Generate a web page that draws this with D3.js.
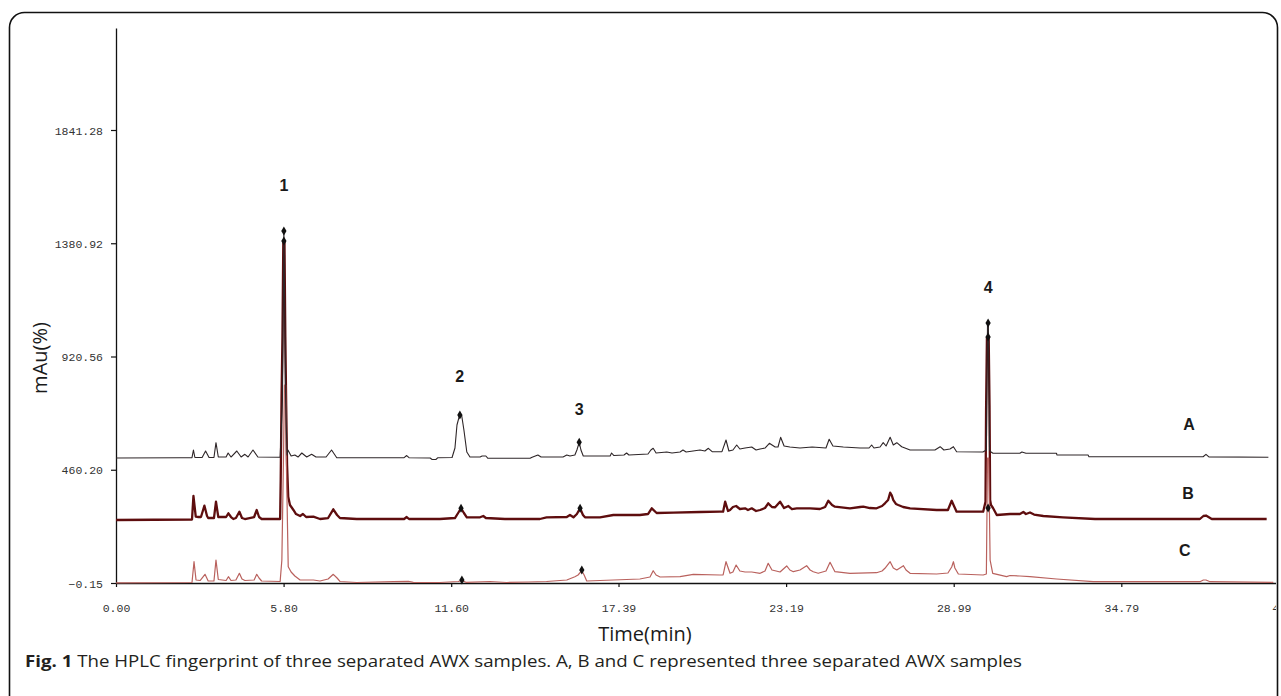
<!DOCTYPE html>
<html>
<head>
<meta charset="utf-8">
<script src="https://cdn.jsdelivr.net/npm/d3@7"></script>
<style>
  html, body { margin: 0; padding: 0; background: #fff; }
  .tick text { font-family: "Liberation Mono", "DejaVu Sans Mono", monospace; font-size: 11.5px; fill: #333; }
</style>
</head>
<body>
<div id="chart"></div>
<script>
// Axis ticks (as printed by the HPLC software)
const timeTicks = [0, 5.80, 11.60, 17.39, 23.19, 28.99, 34.79, 40.59];
const intensityTicks = [-0.15, 460.20, 920.56, 1380.92, 1841.28];
const intensityTop = 2255.9;

// Chromatograms [time (min), mAu]
const traceA = [
  [0, 508.0], [2.21, 509.2], [2.63, 509.2], [2.68, 540.5], [2.73, 510], [2.98, 510], [3.10, 536.4], [3.22, 510],
  [3.39, 510], [3.46, 570.2], [3.54, 512], [3.81, 512], [3.88, 528.3], [3.98, 512], [4.18, 536.4], [4.33, 512],
  [4.46, 523.0], [4.57, 512], [4.74, 540.5], [4.91, 512], [5.68, 510.8], [5.76, 743.7], [5.81, 1430.7],
  [5.87, 743.7], [5.92, 520.2], [5.95, 540.5], [6.06, 516.1], [6.19, 520.2], [6.30, 512], [6.43, 528.3],
  [6.60, 512], [6.77, 523.0], [6.92, 512], [7.27, 512], [7.46, 540.5], [7.64, 509.2], [9.97, 509.2],
  [10.06, 518], [10.14, 509.2], [10.87, 508.0], [10.94, 501.9], [11.07, 501.9], [11.14, 509.2], [11.63, 510],
  [11.73, 548.6], [11.80, 642.1], [11.89, 682.7], [11.96, 682.7], [12.04, 621.8], [12.14, 532.4], [12.25, 512],
  [12.60, 512], [12.67, 516.1], [12.80, 516.1], [12.87, 506.7], [14.33, 506.7], [14.40, 510.8], [14.60, 520.2],
  [14.71, 512], [15.47, 512], [15.60, 520.2], [15.71, 516.1], [15.88, 520.2], [15.95, 540.5], [16.03, 571.8],
  [16.09, 540.5], [16.17, 516.1], [16.75, 516.1], [17.10, 516.1], [17.15, 528.3], [17.23, 518], [17.58, 520.2],
  [17.67, 528.3], [17.75, 520.2], [18.41, 524.2], [18.51, 540.5], [18.59, 547.4], [18.69, 528.3], [19.06, 532.4],
  [19.24, 528.3], [19.52, 532.4], [19.62, 540.5], [19.73, 532.4], [20.21, 540.5], [20.38, 536.4], [20.50, 547.4],
  [20.63, 533.6], [20.97, 533.6], [21.11, 581.1], [21.21, 536.4], [21.35, 540.5], [21.48, 560.8], [21.59, 544.6],
  [21.77, 548.6], [22.00, 552.7], [22.15, 540.5], [22.29, 544.6], [22.46, 548.6], [22.61, 567.7], [22.81, 552.7],
  [22.91, 552.7], [23.00, 592.1], [23.12, 556.7], [23.32, 552.7], [23.67, 548.6], [24.09, 552.7], [24.57, 548.6],
  [24.68, 584.0], [24.81, 556.7], [25.17, 552.7], [25.75, 548.6], [26.06, 548.6], [26.15, 560.8], [26.23, 548.6],
  [26.44, 552.7], [26.55, 570.2], [26.65, 556.7], [26.79, 592.1], [26.90, 560.8], [27.02, 570.2], [27.19, 553.9],
  [27.48, 540.5], [28.34, 540.5], [28.52, 553.9], [28.65, 540.5], [28.86, 544.6], [28.98, 553.9], [29.09, 533.6],
  [30.00, 532.4], [30.12, 540.5], [30.16, 1056.7], [30.19, 1056.7], [30.23, 540.5], [30.28, 532.4], [30.35, 527.1],
  [31.28, 527.1], [31.35, 532.4], [31.49, 527.1], [32.55, 527.1], [32.56, 520.2], [33.64, 520.2], [33.67, 513.2],
  [37.62, 513.2], [37.72, 523.0], [37.82, 512.4], [39.88, 510.8]
];

const traceB = [
  [0, 255.9], [2.63, 258], [2.68, 353.5], [2.76, 269.4], [2.85, 268.1], [2.94, 268.1], [3.06, 314.1], [3.15, 272.2],
  [3.19, 264], [3.39, 264], [3.46, 330.3], [3.54, 268.1], [3.81, 268.1], [3.89, 283.2], [3.98, 268.1], [4.06, 260],
  [4.15, 264], [4.27, 289.7], [4.36, 264], [4.46, 260], [4.78, 268.1], [4.87, 296.6], [4.95, 268.1], [5.04, 260],
  [5.68, 260], [5.70, 420], [5.73, 760], [5.76, 1000], [5.79, 1390.0], [5.83, 1390.0], [5.86, 1000],
  [5.89, 720], [5.92, 480], [5.96, 350.6], [6.02, 316.9], [6.14, 296.6], [6.23, 280.3], [6.37, 272.2],
  [6.47, 280.3], [6.58, 268.1], [6.83, 269.4], [7.06, 260], [7.34, 264], [7.52, 299.4], [7.65, 276.3], [7.75, 264],
  [8.33, 260], [9.97, 260], [10.06, 268.1], [10.14, 260], [11.21, 260], [11.73, 264], [11.84, 284.4], [11.94, 303.5],
  [12.04, 284.4], [12.14, 266.9], [12.60, 266.9], [12.71, 272.2], [12.80, 264], [13.46, 260], [14.67, 260],
  [14.90, 266.9], [15.60, 268.1], [15.71, 276.3], [15.83, 266.9], [15.95, 280.3], [16.06, 303.5], [16.16, 276.3],
  [16.23, 266.9], [16.75, 266.9], [17.21, 276.3], [18.13, 276.3], [18.41, 280.3], [18.54, 303.5], [18.71, 284.4],
  [19.29, 285.6], [20.21, 288.5], [20.90, 289.7], [21.01, 289.7], [21.08, 330.3], [21.18, 292.5], [21.25, 296.6],
  [21.35, 308.8], [21.46, 312.8], [21.59, 300.6], [21.77, 303.5], [21.87, 296.6], [22.00, 303.5], [22.15, 292.5],
  [22.29, 296.6], [22.46, 304.7], [22.57, 323.8], [22.70, 308.8], [22.81, 307.6], [22.98, 330.3], [23.12, 304.7],
  [23.27, 312.8], [23.39, 300.6], [23.56, 303.5], [24.02, 303.5], [24.36, 300.6], [24.54, 308.8], [24.65, 334.4],
  [24.78, 316.9], [24.88, 310.0], [25.40, 303.5], [25.75, 308.8], [25.86, 310.0], [26.09, 304.7], [26.32, 303.5],
  [26.51, 312.8], [26.61, 323.8], [26.72, 337.2], [26.79, 366.9], [26.84, 357.6], [26.90, 337.2], [26.99, 321.0],
  [27.07, 316.9], [27.24, 308.8], [27.48, 303.5], [28.40, 296.6], [28.79, 296.6], [28.86, 316.9], [28.92, 334.4],
  [29.00, 312.8], [29.09, 289.7], [30.01, 289.7], [30.09, 330], [30.11, 700], [30.14, 999.8], [30.20, 999.8],
  [30.23, 720], [30.25, 337.2], [30.28, 316.9], [30.35, 304.7], [30.48, 276.3], [30.94, 280.3], [31.28, 280.3],
  [31.40, 288.5], [31.49, 280.3], [31.63, 286.4], [31.77, 278.2], [32.09, 272.2], [32.77, 266.9], [33.88, 260],
  [37.51, 260], [37.63, 272.2], [37.72, 274.2], [37.92, 260], [39.82, 260]
];

const traceC = [
  [0, 0.5], [2.63, 1.9], [2.70, 86.4], [2.77, 12.0], [2.91, 10], [3.08, 35.2], [3.19, 8.0], [3.39, 8.0],
  [3.46, 93.3], [3.54, 14.1], [3.81, 10], [3.89, 25.5], [3.98, 10], [4.15, 12], [4.27, 39.3], [4.36, 16.1],
  [4.46, 10], [4.78, 12.0], [4.87, 35.2], [4.95, 20.2], [5.04, 8.0], [5.68, 6.0], [5.74, 93.3], [5.80, 540.5],
  [5.83, 804.7], [5.87, 804.7], [5.90, 459.2], [5.96, 66.1], [6.06, 44.6], [6.19, 28.3], [6.37, 12.0], [6.83, 12],
  [7.06, 8], [7.34, 16.1], [7.52, 35.2], [7.65, 20.2], [7.75, 6.0], [8.33, 1.9], [9.60, 5.1], [10.12, 6.8],
  [10.29, 2.7], [11.21, 1.9], [11.84, 6.0], [11.97, 10], [12.11, 2.7], [12.94, 6], [13.52, 1.9], [14.27, 3.9],
  [14.90, 6.0], [15.60, 12.0], [15.88, 25.5], [15.99, 32.4], [16.12, 49.8], [16.20, 32.4], [16.29, 8.0],
  [16.75, 10], [17.21, 12.0], [18.13, 16.1], [18.48, 24.2], [18.59, 49.8], [18.69, 32.4], [18.83, 24.2],
  [19.52, 25.5], [19.98, 35.2], [20.90, 32.4], [21.01, 32.4], [21.11, 86.4], [21.25, 39.3], [21.35, 44.6],
  [21.46, 73.0], [21.59, 48.6], [21.77, 44.6], [22.00, 44.6], [22.29, 39.3], [22.46, 48.6], [22.57, 79.9],
  [22.70, 52.7], [22.81, 49.8], [22.98, 44.6], [23.21, 69.0], [23.32, 52.7], [23.44, 45.8], [23.67, 52.7],
  [23.90, 70.2], [24.02, 52.7], [24.13, 45.8], [24.30, 39.3], [24.57, 48.6], [24.71, 84.0], [24.88, 45.8],
  [25.40, 39.3], [26.32, 41.7], [26.51, 48.6], [26.61, 59.6], [26.79, 86.4], [26.90, 60.8], [27.02, 52.7],
  [27.25, 70.2], [27.34, 52.7], [27.48, 39.3], [28.40, 36.4], [28.79, 40.5], [28.92, 64.9], [28.98, 86.4],
  [29.03, 60.8], [29.15, 36.4], [30.01, 32.4], [30.12, 36.4], [30.16, 508.0], [30.20, 508.0], [30.25, 93.3],
  [30.34, 39.3], [30.82, 25.5], [30.94, 30.3], [31.28, 28.3], [31.63, 25.5], [32.55, 16.1], [33.82, 5.1],
  [37.51, 5.1], [37.63, 12.0], [37.72, 12.0], [37.86, 5.1], [40.05, 2.7]
];

// Integrated peak apex markers [time, mAu]
const markers = [
  [5.81, 1430.7], [11.90, 682.7], [16.03, 571.8], [30.18, 1056.7],
  [5.81, 1390.0], [11.94, 303.5], [16.06, 303.5], [30.18, 999.8],
  [11.97, 12.0], [16.12, 52.7], [30.18, 304.7]
];

// Annotations [text, time, mAu]
const peakLabels = [["1", 5.81, 1593], ["2", 11.89, 817], ["3", 16.03, 683], ["4", 30.18, 1179]];
const sampleLabels = [["A", 37.13, 622], ["B", 37.10, 341], ["C", 36.99, 110]];

const traceColors = { A: "#2e2628", B: "#5e0d0e", C: "#b9615d" };

// Dimensions
const W = 1281, H = 696;
const margin = { top: 28, left: 116, bottom: 113 };

const svg = d3.select("#chart")
  .append("svg")
    .attr("width", W)
    .attr("height", H);

svg.append("rect").attr("width", W).attr("height", H).attr("fill", "#fff");

// Rounded figure frame (open at bottom of crop)
svg.append("rect")
  .attr("x", 9.5).attr("y", 12.5)
  .attr("width", 1268).attr("height", 700)
  .attr("rx", 15)
  .attr("fill", "none")
  .attr("stroke", "#111")
  .attr("stroke-width", 1.6);

svg.append("clipPath").attr("id", "clip")
  .append("rect").attr("x", 0).attr("y", 0).attr("width", 1276).attr("height", H);

const g = svg.append("g").attr("clip-path", "url(#clip)");

// Scales
const x = d3.scaleLinear().domain([0, 40.59]).range([margin.left, 116 + 40.59 / 5.80 * 167.6]);
const y = d3.scaleLinear().domain([-0.15, intensityTop]).range([H - margin.bottom, margin.top]);

// Axes
g.append("g")
  .attr("transform", `translate(0, ${y(-0.15)})`)
  .call(d3.axisBottom(x).tickValues(timeTicks).tickFormat(d3.format(".2f")).tickSize(4).tickSizeOuter(0).tickPadding(17));

const yAxis = g.append("g")
  .attr("transform", `translate(${margin.left}, 0)`)
  .call(d3.axisLeft(y).tickValues(intensityTicks).tickFormat(d3.format(".2f")).tickSize(5).tickSizeOuter(0).tickPadding(8));

g.selectAll(".domain").attr("stroke", "#111").attr("stroke-width", 1.3);
g.selectAll(".tick line").attr("stroke", "#111").attr("stroke-width", 1.2);
yAxis.selectAll(".tick text").attr("dy", "0.36em");

// Line generator
const line = d3.line()
  .x(d => x(d[0]))
  .y(d => y(d[1]));

const traces = [
  { key: "B", values: traceB, width: 2.3 },
  { key: "C", values: traceC, width: 1.2 },
  { key: "A", values: traceA, width: 1.1 }
];

g.selectAll(".trace")
  .data(traces)
  .enter()
  .append("path")
    .attr("class", "trace")
    .attr("fill", "none")
    .attr("stroke", d => traceColors[d.key])
    .attr("stroke-width", d => d.width)
    .attr("stroke-linejoin", "round")
    .attr("d", d => line(d.values));

// Peak markers
g.selectAll(".marker")
  .data(markers)
  .enter()
  .append("path")
    .attr("class", "marker")
    .attr("transform", d => `translate(${x(d[0])}, ${y(d[1])})`)
    .attr("d", d3.symbol(d3.symbolDiamond, 24))
    .attr("fill", "#111");

// Peak numbers and sample names
g.selectAll(".peak-label")
  .data(peakLabels.concat(sampleLabels))
  .enter()
  .append("text")
    .attr("x", d => x(d[1]))
    .attr("y", d => y(d[2]))
    .attr("text-anchor", "middle")
    .attr("font-family", "Liberation Sans, Arial, sans-serif")
    .attr("font-weight", "bold")
    .attr("font-size", 16)
    .attr("fill", "#1a1a1a")
    .text(d => d[0]);

// Axis titles
svg.append("text")
  .attr("x", 645).attr("y", 641)
  .attr("text-anchor", "middle")
  .attr("font-family", "Open Sans, sans-serif")
  .attr("font-size", 20)
  .attr("fill", "#1a1a1a")
  .text("Time(min)");

svg.append("text")
  .attr("transform", "translate(47, 358) rotate(-90)")
  .attr("text-anchor", "middle")
  .attr("font-family", "Open Sans, sans-serif")
  .attr("font-size", 20)
  .attr("fill", "#1a1a1a")
  .text("mAu(%)");

// Caption
const caption = svg.append("text")
  .attr("x", 25).attr("y", 667)
  .attr("font-family", "Open Sans, sans-serif")
  .attr("font-size", 16.5)
  .attr("textLength", 997)
  .attr("lengthAdjust", "spacingAndGlyphs")
  .attr("fill", "#231f20");
caption.append("tspan").attr("font-weight", "bold").text("Fig. 1");
caption.append("tspan").text(" The HPLC fingerprint of three separated AWX samples. A, B and C represented three separated AWX samples");
</script>
</body>
</html>
